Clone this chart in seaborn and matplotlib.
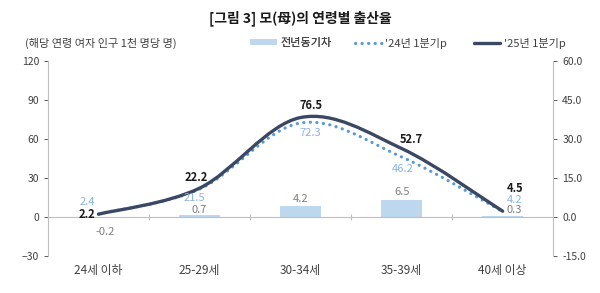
import numpy as np
import pandas as pd
import matplotlib
matplotlib.use("Agg")
import matplotlib.pyplot as plt
from matplotlib.path import Path
from matplotlib.patches import PathPatch, Patch
from matplotlib.lines import Line2D
import seaborn as sns

# data
ages = ["24세 이하", "25-29세", "30-34세", "35-39세", "40세 이상"]
rate_24 = [2.4, 21.5, 72.3, 46.2, 4.2]
rate_25 = [2.2, 22.2, 76.5, 52.7, 4.5]
diff = [-0.2, 0.7, 4.2, 6.5, 0.3]

DARK = "#3a4863"
DOT = "#5b9bd5"
BAR = "#bdd7ee"
LBLUE = "#8db4e2"
GRAY = "#7f7f7f"
TXT = "#404040"


def smooth_path(xs, ys):
    # excel-like smoothed line: cubic bezier segments through the points
    xs = np.asarray(xs, float)
    ys = np.asarray(ys, float)
    pts = np.column_stack([xs, ys])
    verts = [pts[0]]
    codes = [Path.MOVETO]
    n = len(pts)
    for i in range(n - 1):
        p0 = pts[i - 1] if i > 0 else pts[i]
        p1, p2 = pts[i], pts[i + 1]
        p3 = pts[i + 2] if i + 2 < n else pts[i + 1]
        c1 = p1 + (p2 - p0) / 6
        c2 = p2 - (p3 - p1) / 6
        verts += [c1, c2, p2]
        codes += [Path.CURVE4] * 3
    return Path(verts, codes)


sns.set_style("white")
plt.rcParams["font.family"] = ["Noto Sans CJK KR", "DejaVu Sans"]

fig = plt.figure(figsize=(6, 2.93), dpi=100)
ax = fig.add_axes([0.08, 0.126, 0.842, 0.666])
ax2 = ax.twinx()
ax.set_zorder(2)
ax.patch.set_visible(False)

df = pd.DataFrame({"age": ages, "diff": diff})
sns.barplot(data=df, x="age", y="diff", ax=ax2, color=BAR, width=0.4,
            saturation=1, edgecolor="none")

x = np.arange(len(ages))
dotted = (0, (0.05, 2.0))
ax.add_patch(PathPatch(smooth_path(x, rate_24), fill=False, edgecolor=DOT,
                       lw=2.3, linestyle=dotted, capstyle="round"))
ax.add_patch(PathPatch(smooth_path(x, rate_25), fill=False, edgecolor=DARK,
                       lw=2.4, capstyle="round"))

ax.set_xlim(-0.5, 4.5)
ax2.set_xlim(-0.5, 4.5)
ax.set_ylim(-30, 120)
ax2.set_ylim(-15, 60)
ax.set_yticks(np.arange(-30, 121, 30))
ax2.set_yticks(np.arange(-15, 61, 15))
ax2.set_yticklabels([f"{v:.1f}" for v in np.arange(-15, 61, 15)])
ax.set_xticks(x)
ax.set_xticklabels(ages)
ax2.set_xlabel("")
ax2.set_ylabel("")
ax.tick_params(axis="x", length=0, labelsize=8.5, colors=TXT, pad=6)
ax.tick_params(axis="y", length=3, labelsize=7.5, colors=TXT, direction="out", width=0.6)
ax2.tick_params(axis="y", length=3, labelsize=7.5, colors=TXT, direction="out", width=0.6)
ax2.tick_params(axis="x", length=0, labelbottom=False)

for a in (ax, ax2):
    a.spines["top"].set_visible(False)
    a.spines["bottom"].set_visible(False)
    a.spines["left"].set_color("#bfbfbf")
    a.spines["right"].set_color("#bfbfbf")
    a.spines["left"].set_linewidth(0.8)
    a.spines["right"].set_linewidth(0.8)
ax2.spines["left"].set_visible(False)
ax.spines["right"].set_visible(False)

ax.axhline(0, color="#bfbfbf", lw=0.8, zorder=0)
ax.vlines(x[:-1] + 0.5, -2, 2, color="#bfbfbf", lw=0.8)

# data labels (pixel offsets)
off25 = [(-12, 0), (-3, 11), (10, 12), (10, 9), (12, 23)]
off24 = [(-11, 12), (-5, -9), (10, -10), (1, -12), (12, 12)]
offd = [(7, -15), (0, 5), (0, 7), (0, 8), (12, 6)]
for i in range(len(ages)):
    ax.annotate(f"{rate_25[i]:.1f}", (x[i], rate_25[i]), xytext=off25[i],
                textcoords="offset pixels", ha="center", va="center",
                fontsize=8, fontweight="bold", color="#1a1a1a")
    ax.annotate(f"{rate_24[i]:.1f}", (x[i], rate_24[i]), xytext=off24[i],
                textcoords="offset pixels", ha="center", va="center",
                fontsize=8, color=LBLUE)
    ax2.annotate(f"{diff[i]:.1f}", (x[i], max(diff[i], 0)), xytext=offd[i],
                 textcoords="offset pixels", ha="center", va="center",
                 fontsize=8, color=GRAY, zorder=5)

fig.text(0.5, 0.939, "[그림 3] 모(母)의 연령별 출산율", ha="center", va="center",
         fontsize=10, fontweight="bold", color="#1a1a1a")
fig.text(0.042, 0.853, "(해당 연령 여자 인구 1천 명당 명)", ha="left", va="center",
         fontsize=8, color=TXT)

leg_a = fig.legend([Patch(facecolor=BAR, edgecolor="none")], ["전년동기차"],
                   loc="center left", bbox_to_anchor=(250 / 600, 0.853),
                   frameon=False, fontsize=8, handlelength=2.4, handleheight=0.5,
                   handletextpad=0.3, borderpad=0, borderaxespad=0, labelcolor=TXT)
fig.add_artist(leg_a)
line_handles = [
    Line2D([0], [0], color=DOT, lw=2.3, linestyle=dotted, dash_capstyle="round"),
    Line2D([0], [0], color=DARK, lw=2.4),
]
fig.legend(line_handles, ["'24년 1분기p", "'25년 1분기p"], loc="center left",
           bbox_to_anchor=(355 / 600, 0.853), ncol=2, frameon=False, fontsize=8,
           handlelength=2.4, handletextpad=0.3, columnspacing=2.4, borderpad=0,
           borderaxespad=0, labelcolor=TXT)

fig.savefig("out.png", dpi=100)
